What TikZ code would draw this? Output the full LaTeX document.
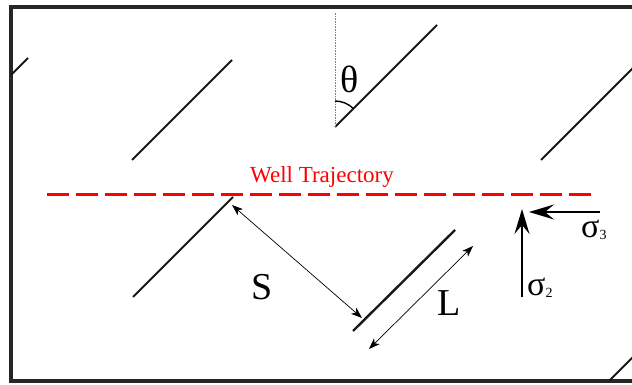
\documentclass[tikz,border=0pt]{standalone}
\usepackage{fontspec}
\setmainfont{Liberation Serif}
\newfontfamily\serifface{Liberation Serif}
\usetikzlibrary{arrows.meta}

\begin{document}
\begin{tikzpicture}[x=1pt, y=1pt,
    every node/.style={inner sep=0pt},
    fracture/.style={black!90, line width=1.8pt},
    dimarrow/.style={{Stealth[length=11pt, width=8pt, inset=3pt]}-{Stealth[length=11pt, width=8pt, inset=3pt]}, line width=0.7pt},
    stress/.style={-{Stealth[length=25pt, width=15pt, inset=9pt]}, line width=1.6pt},
    biglabel/.style={font=\serifface\fontsize{38}{40}\selectfont}]

    % Parameters
    \def\fl{100}

    \clip (0,0) rectangle (632,385);

    % =====================================================
    % Frame
    % =====================================================
    \draw[black!85, line width=3.4pt] (11,4) rectangle (680,378);

    % =====================================================
    % Natural fractures
    % =====================================================
    \foreach \x/\y in {132/225, 541/225, 133/88} {
        \draw[fracture] (\x,\y) -- ++(\fl,\fl);
    }
    \draw[fracture] (11,310) -- (28,327);
    \draw[fracture] (609,4) -- ++(\fl,\fl);
    \coordinate (th) at (335,258);
    \draw[fracture] (th) -- ++(102,102);
    \draw[black!90, line width=2.4pt] (353,54) -- (455,155);

    % angle theta
    \draw[gray, densely dotted, line width=0.6pt] (th) -- (335,373);
    \draw[black, line width=1.4pt] (th) ++(0,26) arc[start angle=90, end angle=45, radius=26];
    \node[biglabel] (theta) at (350,306) {θ};

    % =====================================================
    % Well trajectory
    % =====================================================
    \draw[red, line width=3pt, dash pattern=on 22pt off 7pt] (47,190) -- (592,190);
    \node[red, font=\serifface\fontsize{23}{25}\selectfont] (well) at (322,208) {Well Trajectory};

    % =====================================================
    % Spacing and length
    % =====================================================
    \coordinate (sA) at (232,180);
    \coordinate (sB) at (362,67);
    \draw[dimarrow] (sA) -- (sB);
    \node[biglabel] (S) at (262,98) {S};

    \coordinate (lA) at (369,36);
    \coordinate (lB) at (473,139);
    \draw[dimarrow] (lA) -- (lB);
    \node[biglabel] (L) at (449,82) {L};

    % =====================================================
    % Stresses
    % =====================================================
    \coordinate (s2a) at (522,88);
    \coordinate (s2b) at (522,176);
    \draw[stress] (s2a) -- (s2b);
    \node[anchor=base west, font=\serifface\fontsize{34}{36}\selectfont] (sig2) at (527,89) {σ\raisebox{-2pt}{\fontsize{14}{15}\selectfont 2}};

    \coordinate (s3a) at (600,173);
    \coordinate (s3b) at (529,173);
    \draw[stress] (s3a) -- (s3b);
    \node[anchor=base west, font=\serifface\fontsize{34}{36}\selectfont] (sig3) at (581,147) {σ\raisebox{-2pt}{\fontsize{14}{15}\selectfont 3}};

\end{tikzpicture}
\end{document}
